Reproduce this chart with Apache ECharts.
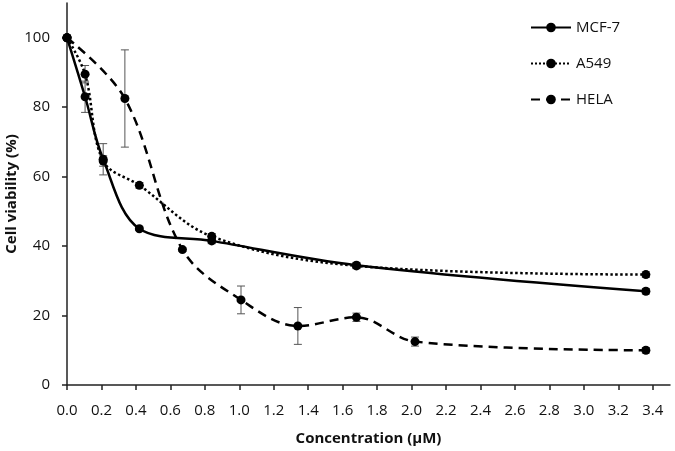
<!DOCTYPE html>
<html>
<head>
<meta charset="utf-8">
<script src="https://cdn.jsdelivr.net/npm/echarts@6/dist/echarts.min.js"></script>
<style>
  html, body { margin: 0; padding: 0; background: #fff; }
  #chart { width: 675px; height: 451px; }
</style>
</head>
<body>
<div id="chart"></div>
<script>
// values
const mcfX = [0, 0.105, 0.21, 0.42, 0.84, 1.68, 3.36]
const mcfY = [100, 83, 65, 45, 41.5, 34.5, 27]
const mcfErr = [0, 4.5, 4.5, 0.5, 0.8, 0.8, 0.8]

const a549X = [0, 0.105, 0.21, 0.42, 0.84, 1.68, 3.36]
const a549Y = [100, 89.5, 64.5, 57.5, 42.8, 34.3, 31.8]
const a549Err = [0, 2.5, 1.5, 0.8, 0.8, 0.8, 0.8]

const helaX = [0, 0.336, 0.67, 1.01, 1.34, 1.68, 2.02, 3.36]
const helaY = [100, 82.5, 39, 24.5, 17, 19.5, 12.5, 10]
const helaErr = [0, 14, 0.5, 4, 5.3, 1.2, 1.3, 0.8]

const xTicks = [0, 0.2, 0.4, 0.6, 0.8, 1.0, 1.2, 1.4, 1.6, 1.8, 2.0, 2.2, 2.4, 2.6, 2.8, 3.0, 3.2, 3.4]

const FONT = 'Open Sans'

function pairs(xs, ys) {
  return xs.map((x, i) => [x, ys[i]])
}

function errData(xs, ys, es) {
  return xs.map((x, i) => [x, ys[i] - es[i], ys[i] + es[i]])
}

// error bars drawn through the axis scales
function errSeries(name, xs, ys, es) {
  return {
    name: name + '-err',
    type: 'custom',
    silent: true,
    z: 1,
    data: errData(xs, ys, es),
    renderItem: function(params, api) {
      const lo = api.coord([api.value(0), api.value(1)])
      const hi = api.coord([api.value(0), api.value(2)])
      const w = 4
      const st = { stroke: '#555', lineWidth: 1 }
      return {
        type: 'group',
        children: [
          { type: 'line', shape: { x1: lo[0], y1: lo[1], x2: hi[0], y2: hi[1] }, style: st },
          { type: 'line', shape: { x1: lo[0] - w, y1: lo[1], x2: lo[0] + w, y2: lo[1] }, style: st },
          { type: 'line', shape: { x1: hi[0] - w, y1: hi[1], x2: hi[0] + w, y2: hi[1] }, style: st }
        ]
      }
    }
  }
}

function lineSeries(name, xs, ys, type) {
  return {
    name: name,
    type: 'line',
    smooth: 0.35,
    z: 3,
    data: pairs(xs, ys),
    symbol: 'circle',
    symbolSize: 9,
    itemStyle: { color: '#000' },
    lineStyle: { color: '#000', width: 2.5, type: type }
  }
}

const chart = echarts.init(document.getElementById('chart'))
chart.setOption({
  backgroundColor: '#fff',
  animation: false,
  grid: { left: 67, right: 5, top: 3, bottom: 66, outerBoundsMode: 'none', containLabel: false },
  // y axis title placed by hand, the axis name kept drifting to the edge
  graphic: [{
    type: 'text',
    x: 12,
    y: 194,
    rotation: Math.PI / 2,
    style: {
      text: 'Cell viability (%)',
      fontFamily: FONT,
      fontSize: 15,
      fontWeight: 'bold',
      fill: '#111',
      align: 'center',
      verticalAlign: 'middle'
    }
  }],
  legend: {
    orient: 'vertical',
    left: 525,
    top: 15,
    itemWidth: 40,
    itemHeight: 12,
    itemGap: 21,
    data: ['MCF-7', 'A549', 'HELA'],
    textStyle: { fontFamily: FONT, fontSize: 15, color: '#111' }
  },
  xAxis: {
    type: 'value',
    min: 0,
    max: 3.5,
    interval: 0.2,
    name: 'Concentration (μM)',
    nameLocation: 'middle',
    nameGap: 46,
    nameTextStyle: { fontFamily: FONT, fontSize: 15, fontWeight: 'bold', color: '#111' },
    splitLine: { show: false },
    axisLine: { lineStyle: { color: '#222', width: 1.5 } },
    axisTick: { show: true, length: 5, lineStyle: { color: '#222', width: 1.5 } },
    axisLabel: {
      showMaxLabel: false,
      margin: 18,
      fontFamily: FONT,
      fontSize: 15,
      color: '#111',
      formatter: function(v) {
        return xTicks.some(t => Math.abs(t - v) < 1e-6) ? v.toFixed(1) : ''
      }
    }
  },
  yAxis: {
    type: 'value',
    min: 0,
    max: 110,
    interval: 20,
    splitLine: { show: false },
    axisLine: { show: true, lineStyle: { color: '#222', width: 1.5 } },
    axisTick: { show: true, length: 5, lineStyle: { color: '#222', width: 1.5 } },
    axisLabel: {
      showMaxLabel: false,
      margin: 17,
      fontFamily: FONT,
      fontSize: 15,
      color: '#111'
    }
  },
  series: [
    errSeries('MCF-7', mcfX, mcfY, mcfErr),
    errSeries('A549', a549X, a549Y, a549Err),
    errSeries('HELA', helaX, helaY, helaErr),
    lineSeries('MCF-7', mcfX, mcfY, 'solid'),
    lineSeries('A549', a549X, a549Y, 'dotted'),
    lineSeries('HELA', helaX, helaY, [9, 6])
  ]
})
</script>
</body>
</html>
